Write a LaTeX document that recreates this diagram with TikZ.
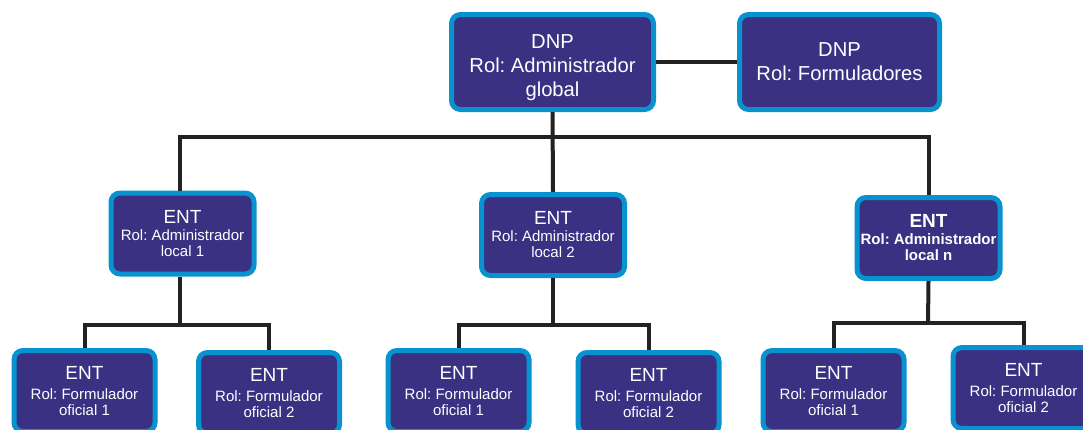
\documentclass[tikz,border=0pt]{standalone}
\usepackage{fontspec}
\setmainfont{Liberation Sans}
\frenchspacing
\definecolor{boxfill}{HTML}{3A3183}
\definecolor{boxline}{HTML}{0892D0}
\definecolor{connc}{HTML}{222222}
\begin{document}
\begin{tikzpicture}[x=1pt,y=-1pt,
  box/.style={draw=boxline, fill=boxfill, line width=5pt, rounded corners=9pt,
    text=white, align=center, inner sep=0pt},
  topbox/.style={box, minimum width=#1, minimum height=95pt,
    font=\fontsize{20.2}{24}\selectfont},
  midbox/.style={box, minimum width=143pt, minimum height=81pt,
    font=\fontsize{15}{16}\selectfont},
  leafbox/.style={box, minimum width=141pt, minimum height=81pt,
    font=\fontsize{15}{15.5}\selectfont},
  conn/.style={draw=connc, line width=4pt}]
\useasboundingbox (0,0) rectangle (1083,429);
% top level
\node[topbox=202pt] (admin) at (552.5,62) {\rule{0pt}{26pt}DNP\\Rol: Administrador\\global};
\node[topbox=200pt] (form) at (839.5,62) {DNP\\Rol: Formuladores};
% middle level
\node[midbox] (l1) at (182.5,233.5) {{\fontsize{19}{19}\selectfont ENT}\\[1pt]Rol: Administrador\\local 1};
\node[midbox] (l2) at (553,235) {{\fontsize{19}{19}\selectfont ENT}\\[1pt]Rol: Administrador\\local 2};
\node[midbox, font=\bfseries\fontsize{15}{16}\selectfont] (ln) at (928.5,238) {{\fontsize{19}{19}\selectfont ENT}\\[1pt]Rol: Administrador\\local n};
% leaves
\node[leafbox] (a1) at (84.5,391) {{\fontsize{19}{19}\selectfont ENT}\\[4.5pt]Rol: Formulador\\oficial 1};
\node[leafbox] (a2) at (269,393) {{\fontsize{19}{19}\selectfont ENT}\\[4.5pt]Rol: Formulador\\oficial 2};
\node[leafbox] (b1) at (458.5,391) {{\fontsize{19}{19}\selectfont ENT}\\[4.5pt]Rol: Formulador\\oficial 1};
\node[leafbox] (b2) at (648.5,393) {{\fontsize{19}{19}\selectfont ENT}\\[4.5pt]Rol: Formulador\\oficial 2};
\node[leafbox] (c1) at (833.5,391) {{\fontsize{19}{19}\selectfont ENT}\\[4.5pt]Rol: Formulador\\oficial 1};
\node[leafbox] (c2) at (1023.5,388) {{\fontsize{19}{19}\selectfont ENT}\\[4.5pt]Rol: Formulador\\oficial 2};
% bus coordinates
\coordinate (bus0) at (553,137);
\coordinate (bus1) at (180,325);
\coordinate (bus2) at (553,325);
\coordinate (bus3) at (928,323);
% connectors
\draw[conn] (admin.east) -- (form.west);
\draw[conn] (admin.south) -- (l2.north);
\draw[conn] (l1.north -| bus1) |- (bus0) -| (ln.north);
\draw[conn] (l1.south -| bus1) -- (bus1);
\draw[conn] (a1.north) |- (bus1) -| (a2.north);
\draw[conn] (l2.south) -- (bus2);
\draw[conn] (b1.north) |- (bus2) -| (b2.north);
\draw[conn] (ln.south) -- (bus3);
\draw[conn] (c1.north) |- (bus3) -| (c2.north);
\end{tikzpicture}
\end{document}
